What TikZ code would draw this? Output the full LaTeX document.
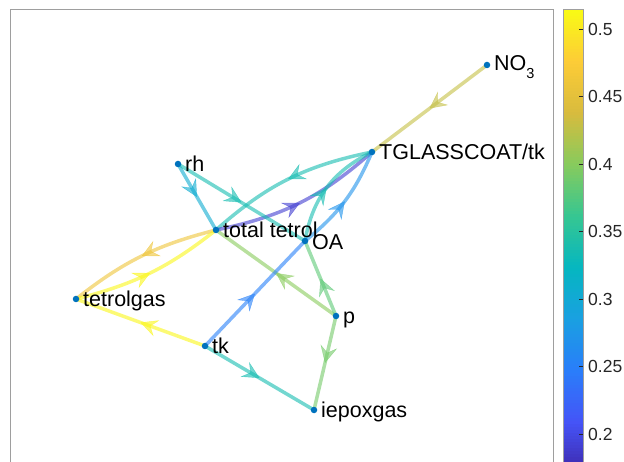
\documentclass[tikz,border=0pt]{standalone}
\usepackage{fontspec}
\setmainfont{Liberation Sans}
\usetikzlibrary{arrows.meta,decorations.markings}
\pgfdeclarelayer{bg}
\pgfsetlayers{bg,main}
% parula anchors at t = k/9
\definecolor{Q0}{rgb}{0.2422,0.1504,0.6603}
\definecolor{Q1}{rgb}{0.2691,0.3294,0.9694}
\definecolor{Q2}{rgb}{0.1640,0.4920,0.9797}
\definecolor{Q3}{rgb}{0.1001,0.6277,0.8836}
\definecolor{Q4}{rgb}{0.0217,0.7164,0.7532}
\definecolor{Q5}{rgb}{0.2133,0.7776,0.5693}
\definecolor{Q6}{rgb}{0.5311,0.7963,0.3631}
\definecolor{Q7}{rgb}{0.8483,0.7346,0.2413}
\definecolor{Q8}{rgb}{0.9916,0.8013,0.2133}
\definecolor{Q9}{rgb}{0.9769,0.9839,0.0805}
\colorlet{v20}{Q1!52!Q0}
\colorlet{v25}{Q3!9!Q2}
\colorlet{v27}{Q3!62!Q2}
\colorlet{v31}{Q4!53!Q3}
\colorlet{v33}{Q5!32!Q4}
\colorlet{v38}{Q6!49!Q5}
\colorlet{v39}{Q6!76!Q5}
\colorlet{v40}{Q7!2!Q6}
\colorlet{v43}{Q7!75!Q6}
\colorlet{v46}{Q8!59!Q7}
\colorlet{v51}{Q9!89!Q8}
\definecolor{ndot}{rgb}{0,0.447,0.741}
\definecolor{axgray}{rgb}{0.62,0.62,0.62}
\definecolor{labc}{rgb}{0.15,0.15,0.15}
\tikzset{
  ed/.style={line width=3.5pt, opacity=0.6,
    decoration={markings, mark=at position 0.5 with {\arrow{Stealth[length=17pt,width=17pt,inset=6.5pt,line width=0.4pt]}}},
    postaction={decorate}},
  dot/.style={circle, fill=ndot, inner sep=0pt, minimum size=6.5pt},
  lbl/.style={anchor=base west, inner sep=0pt, font=\fontsize{21.5}{24}\selectfont},
  ticklbl/.style={anchor=west, inner sep=0pt, text=labc, font=\fontsize{17.5}{19}\selectfont},
}
\begin{document}
\begin{tikzpicture}[x=1pt,y=-1pt]
\useasboundingbox (0,0) rectangle (624,462);
% axes box
\draw[axgray, line width=1pt] (10,480) -- (10,10) -- (553,10) -- (553,480);
% colorbar
\foreach \i in {0,...,156} {
  \pgfmathsetmacro\ya{10+3*\i}
  \pgfmathsetmacro\ct{max(0,9*(1-(\ya+1.5-10)/464.4))}
  \pgfmathtruncatemacro\kk{min(8,floor(\ct))}
  \pgfmathtruncatemacro\kn{\kk+1}
  \pgfmathtruncatemacro\cf{100*(\ct-\kk)}
  \fill[Q\kn!\cf!Q\kk] (563,\ya) rectangle (583,\ya+3.4);
}
\draw[axgray, line width=1pt] (563,10) rectangle (583,480);
\foreach \v/\y [count=\n] in {0.5/29,0.45/96.5,0.4/164,0.35/231.5,0.3/299,0.25/366.5,0.2/434} {
  \draw[labc, line width=0.7pt] (579,\y) -- (583,\y);
  \node[ticklbl] (tick\n) at (588,\y) {\v};
}
% nodes
\node[dot] (no3) at (487,65) {};
\node[dot] (tg) at (372,152) {};
\node[dot] (rh) at (178,164) {};
\node[dot] (tt) at (216,230) {};
\node[dot] (oa) at (305,241) {};
\node[dot] (tgas) at (76,299) {};
\node[dot] (p) at (336,316) {};
\node[dot] (tk) at (205,346) {};
\node[dot] (ieg) at (314,410) {};
% labels
\node[lbl] (no3l) at ([shift={(7,5.5)}]no3.center) {NO\raisebox{-7.6pt}{\fontsize{14.5}{15}\selectfont 3}};
\node[lbl] (tgl) at ([shift={(7,7.5)}]tg.center) {TGLASSCOAT/tk};
\node[lbl] (rhl) at ([shift={(7,8)}]rh.center) {rh};
\node[lbl] (ttl) at ([shift={(7,8)}]tt.center) {total tetrol};
\node[lbl] (oal) at ([shift={(7,9)}]oa.center) {OA};
\node[lbl] (tgasl) at ([shift={(7,8)}]tgas.center) {tetrolgas};
\node[lbl] (pl) at ([shift={(7,8)}]p.center) {p};
\node[lbl] (tkl) at ([shift={(7,7.5)}]tk.center) {tk};
\node[lbl] (iegl) at ([shift={(7,7)}]ieg.center) {iepoxgas};
% edges
\begin{pgfonlayer}{bg}
\draw[ed, v43] (no3.center) -- (tg.center);
\draw[ed, v33] (tg.center) to[bend right=15] (tt.center);
\draw[ed, v20] (tt.center) to[bend right=15] (tg.center);
\draw[ed, v46] (tt.center) to[bend right=12] (tgas.center);
\draw[ed, v51] (tgas.center) to[bend right=12] (tt.center);
\draw[ed, v33] (oa.center) to[bend left=27] (tg.center);
\draw[ed, v27] (oa.center) to[bend right=14] (tg.center);
\draw[ed, v31] (rh.center) -- (tt.center);
\draw[ed, v33] (rh.center) -- (oa.center);
\draw[ed, v40] (p.center) -- (tt.center);
\draw[ed, v38] (p.center) -- (oa.center);
\draw[ed, v51] (tk.center) -- (tgas.center);
\draw[ed, v25] (tk.center) -- (oa.center);
\draw[ed, v33] (tk.center) -- (ieg.center);
\draw[ed, v39] (p.center) -- (ieg.center);
\end{pgfonlayer}
\end{tikzpicture}
\end{document}
